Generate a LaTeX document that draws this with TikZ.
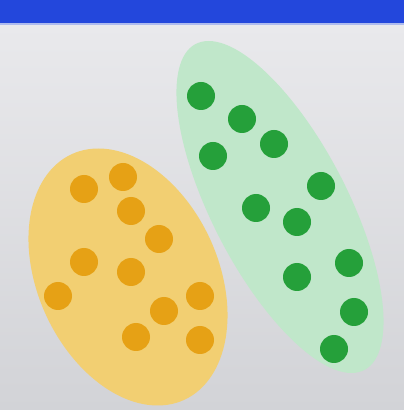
\documentclass[tikz,border=0pt]{standalone}
\definecolor{bgtop}{HTML}{E9E9EC}
\definecolor{bgbot}{HTML}{D2D3D7}
\definecolor{barblue}{HTML}{2347DC}
\definecolor{barline}{HTML}{AEBBEE}
\definecolor{orfill}{HTML}{F2CF72}
\definecolor{ordot}{HTML}{E6A115}
\definecolor{grfill}{HTML}{C0E7CA}
\definecolor{grdot}{HTML}{25A03A}
\tikzset{
  odot/.style={circle,fill=ordot,minimum size=28pt,inner sep=0pt},
  gdot/.style={circle,fill=grdot,minimum size=28pt,inner sep=0pt}
}
\begin{document}
\begin{tikzpicture}[x=1pt,y=1pt]
\useasboundingbox (0,0) rectangle (404,410);
\shade[top color=bgtop,bottom color=bgbot] (0,0) rectangle (404,386);
\fill[barline] (0,385) rectangle (404,388);
\fill[barblue] (0,387) rectangle (404,410);
% ellipses (sheared unit circles)
\begin{scope}[cm={95,0,-29.6,128.5,(128,133)}]
  \fill[orfill] (0,0) circle [radius=1];
\end{scope}
\begin{scope}[cm={75,0,-71.4,166,(280,203)}]
  \fill[grfill] (0,0) circle [radius=1];
\end{scope}
% orange dots (pixel y -> 410 - y)
\node[odot] (o1) at (84,221) {};
\node[odot] (o2) at (123,233) {};
\node[odot] (o3) at (131,199) {};
\node[odot] (o4) at (159,171) {};
\node[odot] (o5) at (84,148) {};
\node[odot] (o6) at (131,138) {};
\node[odot] (o7) at (58,114) {};
\node[odot] (o8) at (200,114) {};
\node[odot] (o9) at (164,99) {};
\node[odot] (o10) at (136,73) {};
\node[odot] (o11) at (200,70) {};
% green dots
\node[gdot] (g1) at (201,314) {};
\node[gdot] (g2) at (242,291) {};
\node[gdot] (g3) at (213,254) {};
\node[gdot] (g4) at (274,266) {};
\node[gdot] (g5) at (321,224) {};
\node[gdot] (g6) at (256,202) {};
\node[gdot] (g7) at (297,188) {};
\node[gdot] (g8) at (349,147) {};
\node[gdot] (g9) at (297,133) {};
\node[gdot] (g10) at (354,98) {};
\node[gdot] (g11) at (334,61) {};
\end{tikzpicture}
\end{document}
